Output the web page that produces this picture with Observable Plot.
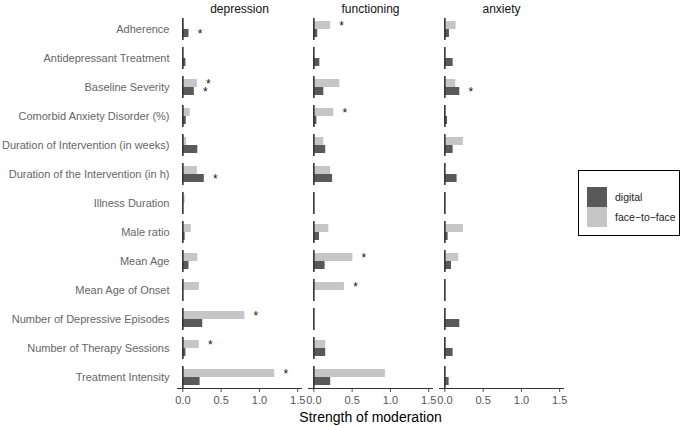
<!DOCTYPE html>
<html>
<head>
<meta charset="utf-8">
<script src="https://cdn.jsdelivr.net/npm/d3@7"></script>
<script src="https://cdn.jsdelivr.net/npm/@observablehq/plot@0.6"></script>
<style>
  html, body { margin: 0; padding: 0; background: #fff; }
  #wrap { position: relative; width: 685px; height: 426px; font-family: "Liberation Sans", Arial, sans-serif; }
  #legend { position: absolute; left: 578px; top: 170px; width: 102px; height: 66px; border: 1px solid #000; box-sizing: border-box; padding: 16px 0 0 8px; font-size: 10.5px; color: #222; }
  .sw { display: flex; align-items: center; height: 20px; }
  .key { width: 20px; height: 20px; margin-right: 8px; }
  g[aria-label="x-axis label"] text { font-size: 14px; fill: #000; }
</style>
</head>
<body>
<div id="wrap"><div id="chart"></div><div id="legend"></div></div>
<script>
const categories = [
  "Adherence", "Antidepressant Treatment", "Baseline Severity", "Comorbid Anxiety Disorder (%)",
  "Duration of Intervention (in weeks)", "Duration of the Intervention (in h)", "Illness Duration",
  "Male ratio", "Mean Age", "Mean Age of Onset", "Number of Depressive Episodes",
  "Number of Therapy Sessions", "Treatment Intensity"
];
const outcomes = ["depression", "functioning", "anxiety"];
const groups = ["digital", "face-to-face"];
const xTicks = [0, 0.5, 1, 1.5];

// strength of moderation, one value per category (order as above)
const depressionDigital      = [0.08, 0.04, 0.15, 0.045, 0.195, 0.28, 0, 0.03, 0.08, 0, 0.26, 0.04, 0.225];
const depressionFaceToFace   = [0.015, 0, 0.19, 0.095, 0.05, 0.19, 0.03, 0.11, 0.195, 0.215, 0.81, 0.215, 1.20];
const functioningDigital     = [0.05, 0.078, 0.13, 0.04, 0.155, 0.245, 0, 0.074, 0.147, 0, 0, 0.155, 0.22];
const functioningFaceToFace  = [0.22, 0, 0.34, 0.26, 0.13, 0.22, 0, 0.195, 0.51, 0.40, 0, 0.155, 0.935];
const anxietyDigital         = [0.06, 0.108, 0.195, 0.035, 0.108, 0.16, 0, 0.043, 0.087, 0, 0.195, 0.108, 0.056];
const anxietyFaceToFace      = [0.147, 0, 0.143, 0, 0.243, 0, 0, 0.243, 0.18, 0, 0, 0, 0];

// significant moderators (marked with *)
const depressionSigDigital    = ["Adherence", "Baseline Severity", "Duration of the Intervention (in h)"];
const depressionSigFaceToFace = ["Baseline Severity", "Number of Depressive Episodes", "Number of Therapy Sessions", "Treatment Intensity"];
const functioningSigDigital   = [];
const functioningSigFaceToFace = ["Adherence", "Comorbid Anxiety Disorder (%)", "Mean Age", "Mean Age of Onset"];
const anxietySigDigital       = ["Baseline Severity"];
const anxietySigFaceToFace    = [];

const series = {
  depression: {digital: [depressionDigital, depressionSigDigital], "face-to-face": [depressionFaceToFace, depressionSigFaceToFace]},
  functioning: {digital: [functioningDigital, functioningSigDigital], "face-to-face": [functioningFaceToFace, functioningSigFaceToFace]},
  anxiety: {digital: [anxietyDigital, anxietySigDigital], "face-to-face": [anxietyFaceToFace, anxietySigFaceToFace]}
};
const rows = [];
for (const outcome of outcomes) for (const group of groups) {
  const [vals, sig] = series[outcome][group];
  categories.forEach((category, i) => rows.push({outcome, group, category, value: vals[i], sig: sig.includes(category)}));
}
const stars = rows.filter(d => d.sig);

const colorDomain = ["digital", "face-to-face"];
const colorRange = ["#595959", "#c6c6c6"];

const plot = Plot.plot({
  width: 685,
  height: 426,
  marginLeft: 176,
  marginRight: 120,
  marginTop: 15,
  marginBottom: 35,
  style: {fontFamily: "Liberation Sans, Arial, sans-serif", fontSize: "11px", color: "#555", background: "transparent"},
  fx: {domain: outcomes, paddingInner: 0.053, paddingOuter: 0},
  fy: {domain: categories, paddingInner: 0.24, paddingOuter: 0},
  y: {domain: ["face-to-face", "digital"], paddingInner: 0, paddingOuter: 0.3, axis: null},
  x: {domain: [-0.07, 1.55], ticks: xTicks, tickFormat: d3.format(".1f"), tickSize: 4, tickPadding: 4,
      label: "Strength of moderation", labelAnchor: "center", labelArrow: "none", labelOffset: 33},
  color: {domain: colorDomain, range: colorRange},
  marks: [
    Plot.barX(rows, {fx: "outcome", fy: "category", y: "group", x: "value", fill: "group"}),
    Plot.ruleX([0], {stroke: "#333", strokeWidth: 1.6}),
    Plot.text(stars, {fx: "outcome", fy: "category", y: "group", x: "value", text: () => "*", dx: 11, dy: 1, fontSize: 12, fill: "#111"}),
    Plot.frame({anchor: "bottom", facetAnchor: "bottom", stroke: "#333"}),
    Plot.axisFy({anchor: "left", tickSize: 0, tickPadding: 8, label: null, fontSize: 11, fill: "#666"}),
    Plot.axisFx({anchor: "top", tickSize: 0, tickPadding: 6, label: null, fontSize: 12, fill: "#111"})
  ]
});
document.getElementById("chart").appendChild(plot);

const color = plot.scale("color");
const legend = document.getElementById("legend");
color.domain.forEach((g, i) => {
  const row = document.createElement("div");
  row.className = "sw";
  const key = document.createElement("div");
  key.className = "key";
  key.style.background = color.range[i];
  const label = document.createElement("span");
  label.textContent = g.replace(/-/g, "\u2212");
  row.appendChild(key); row.appendChild(label);
  legend.appendChild(row);
});
</script>
</body>
</html>
